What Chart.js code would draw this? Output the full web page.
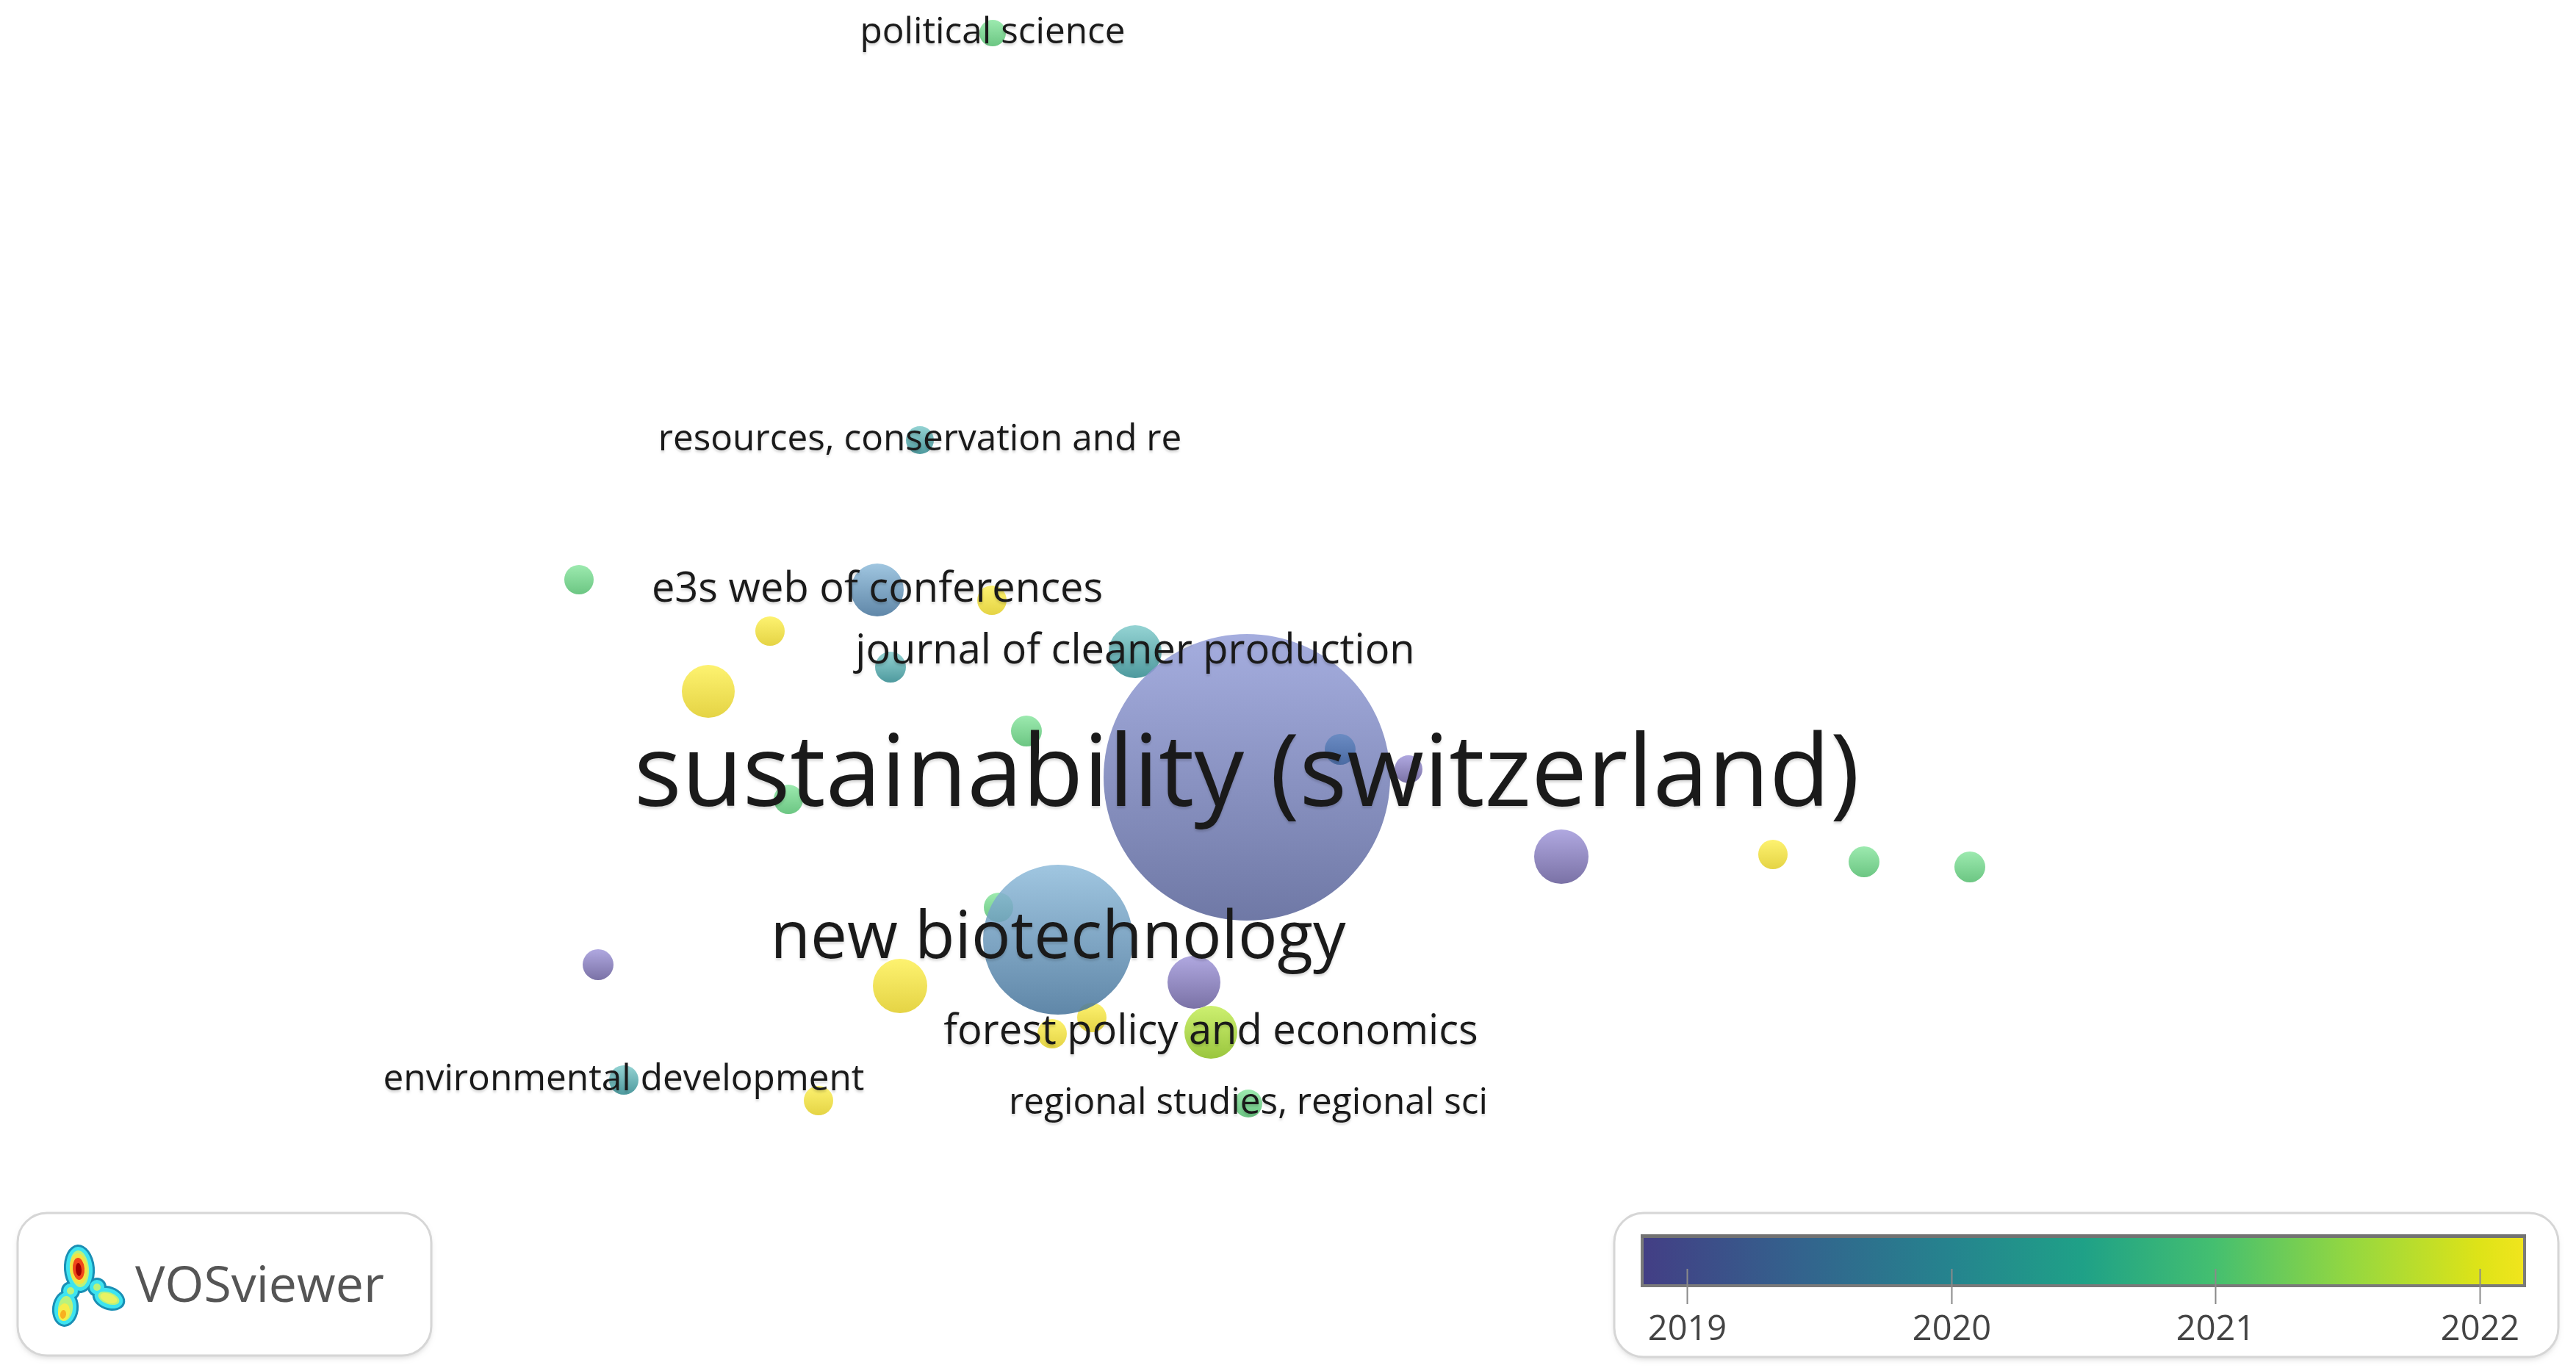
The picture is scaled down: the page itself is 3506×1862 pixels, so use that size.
<!DOCTYPE html>
<html>
<head>
<meta charset="utf-8">
<script src="https://cdn.jsdelivr.net/npm/chart.js@4.4.1/dist/chart.umd.min.js"></script>
<style>
html, body { margin: 0; padding: 0; background: #fff; overflow: hidden; }
#wrap { width: 3506px; height: 1862px; }
</style>
</head>
<body>
<div id="wrap"><canvas id="map" width="3506" height="1862"></canvas></div>
<script>
// sources (journals) of the overlay map; '' = label hidden by VOSviewer
const sources = [
    'political science', 'resources, conservation and re', '', 'e3s web of conferences', '',
    '', 'journal of cleaner production', '', '', '',
    'sustainability (switzerland)', '', '', '', '',
    '', '', '', '', '',
    'new biotechnology', '', '', '', '',
    'forest policy and economics', 'environmental development', '', 'regional studies, regional sci'
];
// map coordinates (layout units, y grows downwards like VOSviewer)
const xs = [1351, 1252, 788, 1194, 1350, 1048, 1545, 1212, 964, 1397, 1697, 1824, 1917, 1073, 2125, 2413, 2537, 2681, 1359, 1486, 1440, 814, 1225, 1625, 1432, 1648, 849, 1114, 1699];
const ys = [45, 599, 789, 803, 817, 859, 887, 908, 941, 995, 1058, 1020, 1047, 1088, 1166, 1163, 1173, 1180, 1235, 1385, 1279, 1313, 1342, 1337, 1407, 1405, 1470, 1498, 1502];
// node weight shown as bubble radius
const weights = [18, 19, 20, 36, 20, 20, 36, 21, 36, 21, 195, 21, 19, 20, 37, 20, 21, 21, 20, 20, 102, 21, 37, 36, 20, 36, 20, 20, 19];
// average publication year (overlay score)
const avgYears = [2021.0, 2020.1, 2021.0, 2019.7, 2022.0, 2022.0, 2020.1, 2020.1, 2022.0, 2021.0, 2019.3, 2019.5, 2019.0, 2021.0, 2019.0, 2022.0, 2021.0, 2021.0, 2021.0, 2022.0, 2019.7, 2019.0, 2022.0, 2019.0, 2022.0, 2021.6, 2020.1, 2022.0, 2021.0];
// colour bar ticks
const yearTicks = [2019, 2020, 2021, 2022];
const barRange = [2018.83, 2022.17];

// node shading by year: [year, top colour, bottom colour]
const nodeStops = [
    [2019.0, [176, 168, 224], [122, 114, 166]],
    [2019.3, [165, 173, 223], [111, 121, 166]],
    [2019.5, [122, 154, 202], [92, 122, 172]],
    [2019.7, [160, 198, 224], [96, 135, 168]],
    [2020.1, [149, 212, 212], [78, 154, 158]],
    [2021.0, [156, 234, 175], [108, 198, 131]],
    [2021.6, [205, 240, 112], [154, 198, 62]],
    [2022.0, [253, 242, 112], [229, 212, 69]]
];
// viridis-like bar colours (position along bar 0..1)
const barStops = [
    [0, '#433e85'], [0.18, '#33638d'], [0.352, '#25848e'], [0.5, '#1fa187'],
    [0.648, '#44bf70'], [0.8, '#93d741'], [0.947, '#dde318'], [1, '#f1e51d']
];

const NODE_ALPHA = 0.85;

const lerp = (a, b, t) => a.map((v, k) => v + (b[k] - v) * t);
const yearShade = (yr) => {
    if (yr <= nodeStops[0][0]) return [nodeStops[0][1], nodeStops[0][2]];
    for (let i = 1; i < nodeStops.length; i++) {
        if (yr <= nodeStops[i][0]) {
            const p = nodeStops[i - 1], q = nodeStops[i];
            const t = (yr - p[0]) / (q[0] - p[0]);
            return [lerp(p[1], q[1], t), lerp(p[2], q[2], t)];
        }
    }
    const last = nodeStops[nodeStops.length - 1];
    return [last[1], last[2]];
};
// colour that shows as c on white when painted with alpha a
const onWhite = (c, a) => {
    const v = c.map(x => Math.max(0, Math.min(255, Math.round((x - 255 * (1 - a)) / a))));
    return `rgba(${v[0]},${v[1]},${v[2]},${a})`;
};

const labelFont = (r) => Math.max(49.5, 38 + 0.5 * r);

const nodePoints = xs.map((x, i) => ({ x: x, y: ys[i], r: weights[i] }));

const overlayPlugin = {
    id: 'overlay',
    afterDatasetsDraw(chart) {
        const ctx = chart.ctx;
        const meta = chart.getDatasetMeta(0);
        ctx.save();
        ctx.textAlign = 'center';
        ctx.textBaseline = 'middle';
        meta.data.forEach((pt, i) => {
            if (!sources[i]) return;
            ctx.font = `${labelFont(weights[i]).toFixed(1)}px "Open Sans"`;
            ctx.shadowColor = 'rgba(0,0,0,0.14)';
            ctx.shadowOffsetY = 3;
            ctx.shadowBlur = 3;
            ctx.fillStyle = '#1a1a1a';
            ctx.fillText(sources[i], pt.x, pt.y);
        });
        ctx.restore();
    },
    afterDraw(chart) {
        const ctx = chart.ctx;
        const box = (x, y, w, h) => {
            ctx.save();
            ctx.shadowColor = 'rgba(0,0,0,0.12)';
            ctx.shadowOffsetY = 4;
            ctx.shadowBlur = 6;
            ctx.beginPath();
            ctx.roundRect(x, y, w, h, 40);
            ctx.fillStyle = '#fff';
            ctx.fill();
            ctx.restore();
            ctx.save();
            ctx.beginPath();
            ctx.roundRect(x, y, w, h, 40);
            ctx.strokeStyle = '#d6d6d6';
            ctx.lineWidth = 3;
            ctx.stroke();
            ctx.restore();
        };

        // VOSviewer logo
        box(24, 1651, 563, 194);
        const blobs = [
            [108, 1727, 18, 30, -0.08],
            [96, 1757, 10, 10, 0],
            [89, 1781, 15, 22, 0.12],
            [132, 1752, 10, 10, 0],
            [148, 1767, 20, 13, 0.35]
        ];
        const layer = (inset, color) => {
            ctx.fillStyle = color;
            blobs.forEach(([cx, cy, rx, ry, rot]) => {
                if (rx - inset <= 0 || ry - inset <= 0) return;
                ctx.beginPath();
                ctx.ellipse(cx, cy, rx - inset, ry - inset, rot, 0, Math.PI * 2);
                ctx.fill();
            });
        };
        const spot = (cx, cy, rx, ry, rot, color) => {
            ctx.fillStyle = color;
            ctx.beginPath();
            ctx.ellipse(cx, cy, rx, ry, rot, 0, Math.PI * 2);
            ctx.fill();
        };
        ctx.save();
        layer(-3, '#1a8fb5');
        layer(0, '#3ee4f0');
        layer(5, '#b9f27c');
        spot(87, 1786, 8, 12, 0.15, '#f4ee4c');
        spot(86, 1789, 4, 6, 0.15, '#f8b020');
        spot(148, 1767, 12, 6, 0.35, '#e8f263');
        spot(107, 1727, 12, 21, -0.08, '#f3e244');
        spot(107, 1727, 8, 15, -0.08, '#f0461a');
        spot(107, 1728, 4, 9, -0.08, '#a00000');
        ctx.font = '68px "Open Sans"';
        ctx.fillStyle = '#555';
        ctx.textAlign = 'left';
        ctx.textBaseline = 'alphabetic';
        ctx.fillText('VOSviewer', 184, 1772);
        ctx.restore();

        // colour bar
        box(2197, 1651, 1285, 196);
        const bx = 2235, by = 1683, bw = 1201, bh = 67;
        const yearX = (yr) => bx + (yr - barRange[0]) / (barRange[1] - barRange[0]) * bw;
        ctx.save();
        const g = ctx.createLinearGradient(bx, 0, bx + bw, 0);
        barStops.forEach(([p, c]) => g.addColorStop(p, c));
        ctx.fillStyle = g;
        ctx.fillRect(bx, by, bw, bh);
        ctx.strokeStyle = '#7a7a7a';
        ctx.lineWidth = 4;
        ctx.strokeRect(bx, by, bw, bh);
        ctx.fillStyle = '#727272';
        ctx.fillRect(bx - 2, by - 3, bw + 4, 5);
        ctx.strokeStyle = '#8a8a8a';
        ctx.lineWidth = 2;
        ctx.font = '47px "Open Sans"';
        ctx.fillStyle = '#444';
        ctx.textAlign = 'center';
        ctx.textBaseline = 'alphabetic';
        yearTicks.forEach(yr => {
            const tx = Math.round(yearX(yr)) + 0.5;
            ctx.beginPath();
            ctx.moveTo(tx, 1727);
            ctx.lineTo(tx, 1775);
            ctx.stroke();
            ctx.fillText(String(yr), tx, 1824);
        });
        ctx.restore();
    }
};

new Chart(document.getElementById('map'), {
    type: 'bubble',
    data: {
        datasets: [{
            label: 'sources',
            data: nodePoints,
            borderWidth: 0,
            hoverBorderWidth: 0,
            clip: false,
            backgroundColor: (c) => {
                if (c.type !== 'data' || !c.raw) return 'rgba(200,200,200,0.85)';
                const chart = c.chart;
                const yScale = chart.scales.y;
                const [top, bottom] = yearShade(avgYears[c.dataIndex]);
                const cy = yScale ? yScale.getPixelForValue(c.raw.y) : NaN;
                if (!isFinite(cy)) return onWhite(lerp(top, bottom, 0.5), NODE_ALPHA);
                const grad = chart.ctx.createLinearGradient(0, cy - c.raw.r, 0, cy + c.raw.r);
                grad.addColorStop(0, onWhite(top, NODE_ALPHA));
                grad.addColorStop(1, onWhite(bottom, NODE_ALPHA));
                return grad;
            }
        }]
    },
    options: {
        responsive: false,
        animation: false,
        devicePixelRatio: 1,
        layout: { padding: 0, autoPadding: false },
        plugins: {
            legend: { display: false },
            tooltip: { enabled: false }
        },
        scales: {
            x: { type: 'linear', min: 0, max: 3506, display: false },
            y: { type: 'linear', min: 0, max: 1862, reverse: true, display: false }
        }
    },
    plugins: [overlayPlugin]
});
</script>
</body>
</html>
